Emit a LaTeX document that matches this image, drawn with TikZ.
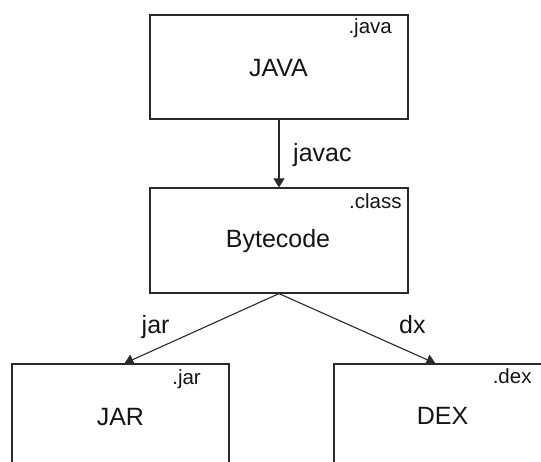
\documentclass[tikz,border=0pt]{standalone}
\usepackage{fontspec}
\setmainfont{Liberation Sans}
\usetikzlibrary{arrows.meta}
\definecolor{linec}{HTML}{2A2A2A}
\definecolor{textc}{HTML}{151515}
\tikzset{
  box/.style={draw=linec, line width=1.2pt, inner sep=0pt, rectangle},
  bigtxt/.style={inner sep=0pt, text=textc, font=\fontsize{25}{30}\selectfont},
  smalltxt/.style={inner sep=0pt, text=textc, font=\fontsize{20.5}{24}\selectfont},
  arr/.style={draw=linec, line width=1.1pt, -{Triangle[length=9pt,width=11pt]}}
}
\begin{document}
\begin{tikzpicture}[x=1pt,y=1pt]
\useasboundingbox (0,0) rectangle (541,-461);
\clip (0,0) rectangle (541,-461);
\fill[white] (0,0) rectangle (541,-461);
% boxes
\node[box, minimum width=258pt, minimum height=104pt] (java) at (279,-67) {};
\node[box, minimum width=258pt, minimum height=105pt] (byte) at (279,-240.5) {};
\node[box, minimum width=217pt, minimum height=130pt] (jar) at (120.5,-429) {};
\node[box, minimum width=217pt, minimum height=130pt] (dex) at (442.5,-429) {};
% main texts
\node[bigtxt, anchor=base] (javat) at (278.5,-76) {JAVA};
\node[bigtxt, anchor=base] (bytet) at (278,-247) {Bytecode};
\node[bigtxt, anchor=base] (jart) at (120.4,-425) {JAR};
\node[bigtxt, anchor=base] (dext) at (442.5,-424) {DEX};
% corner labels
\node[smalltxt, anchor=base east] (javae) at (392,-33) {.java};
\node[smalltxt, anchor=base east] (classe) at (401.7,-208) {.class};
\node[smalltxt, anchor=base east] (jare) at (201,-384) {.jar};
\node[smalltxt, anchor=base east] (dexe) at (531.7,-383) {.dex};
% connectors
\draw[arr] (java.south) -- (byte.north);
\draw[arr] (byte.south) -- ([xshift=113pt]jar.north west);
\draw[arr] (byte.south) -- ([xshift=102pt]dex.north west);
% connector labels
\node[bigtxt, anchor=base west] (javacl) at (293,-161) {javac};
\node[bigtxt, anchor=base west] (jarl) at (141.5,-333) {jar};
\node[bigtxt, anchor=base west] (dxl) at (399,-333) {dx};
\end{tikzpicture}
\end{document}
